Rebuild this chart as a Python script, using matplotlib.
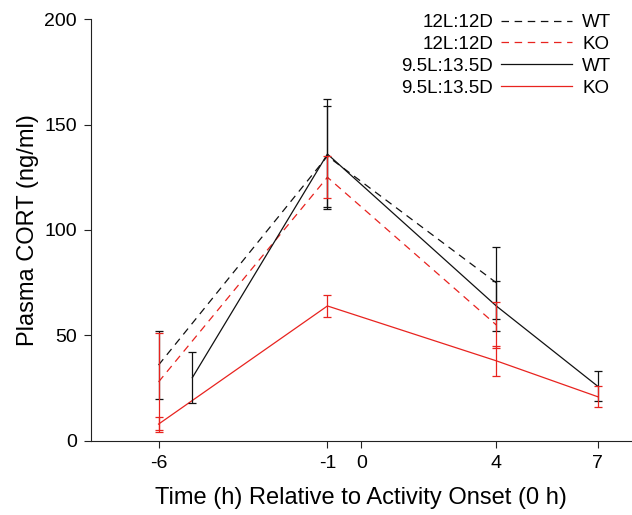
import matplotlib.pyplot as plt
import numpy as np

plt.rcParams['font.family'] = ['Liberation Sans', 'DejaVu Sans']
plt.rcParams['axes.unicode_minus'] = False

# data
x_12 = [-6, -1, 4]
wt_12 = [36, 135, 75]
wt_12_err = [16, 24, 17]
ko_12 = [28, 125, 55]
ko_12_err = [23, 10, 11]

x_95_wt = [-5, -1, 4, 7]
wt_95 = [30, 136, 64, 26]
wt_95_err = [12, 26, 12, 7]
x_95_ko = [-6, -1, 4, 7]
ko_95 = [8, 64, 38, 21]
ko_95_err = [3.6, 5, 7, 5]

x_ticks = [-6, -1, 0, 4, 7]
y_ticks = [0, 50, 100, 150, 200]

RED = '#e8231f'
BLACK = '#111111'

fig = plt.figure(figsize=(6.32, 5.15), dpi=100)
ax = fig.add_axes([0.144, 0.1437, 0.855, 0.8194])

dash = (6, 4.5)
l1, = ax.plot(x_12, wt_12, color=BLACK, lw=0.9, dashes=dash)
l2, = ax.plot(x_12, ko_12, color=RED, lw=0.9, dashes=dash)
l3, = ax.plot(x_95_wt, wt_95, color=BLACK, lw=0.9)
l4, = ax.plot(x_95_ko, ko_95, color=RED, lw=0.9)

eb = dict(fmt='none', elinewidth=0.9, capsize=3, capthick=0.9)
ax.errorbar(x_12, wt_12, yerr=wt_12_err, ecolor=BLACK, **eb)
ax.errorbar(x_95_wt, wt_95, yerr=wt_95_err, ecolor=BLACK, **eb)
ax.errorbar(x_12, ko_12, yerr=ko_12_err, ecolor=RED, **eb)
ax.errorbar(x_95_ko, ko_95, yerr=ko_95_err, ecolor=RED, **eb)

ax.set_xlim(-8, 8)
ax.set_ylim(0, 200)
ax.set_xticks(x_ticks)
ax.set_yticks(y_ticks)
ax.tick_params(labelsize=14, length=5, width=0.8, pad=5, colors='#222222')
ax.tick_params(axis='x', labelcolor='black')
ax.tick_params(axis='y', labelcolor='black')
for s in ['top', 'right']:
    ax.spines[s].set_visible(False)
for s in ['left', 'bottom']:
    ax.spines[s].set_linewidth(0.8)
    ax.spines[s].set_color('#222222')

ax.set_xlabel('Time (h) Relative to Activity Onset (0 h)', fontsize=17, labelpad=11)
ax.set_ylabel('Plasma CORT (ng/ml)', fontsize=17, labelpad=4)

# legend: condition label, line sample, genotype
anchor_y = 1 - 14 / 515
leg1 = ax.legend([l1, l2, l3, l4], ['12L:12D', '12L:12D', '9.5L:13.5D', '9.5L:13.5D'],
                 markerfirst=False, frameon=False, fontsize=13.5, loc='upper right',
                 bbox_to_anchor=(572 / 632, anchor_y), bbox_transform=fig.transFigure,
                 borderpad=0, borderaxespad=0, handlelength=3.8, handletextpad=0.4,
                 labelspacing=0.25)
ax.add_artist(leg1)
blank = [plt.Line2D([], [], lw=0) for _ in range(4)]
ax.legend(blank, ['WT', 'KO', 'WT', 'KO'], frameon=False, fontsize=13.5, loc='upper left',
          bbox_to_anchor=(582 / 632, anchor_y), bbox_transform=fig.transFigure,
          borderpad=0, borderaxespad=0, handlelength=0, handletextpad=0,
          labelspacing=0.25)

fig.savefig('out.png', dpi=100)
